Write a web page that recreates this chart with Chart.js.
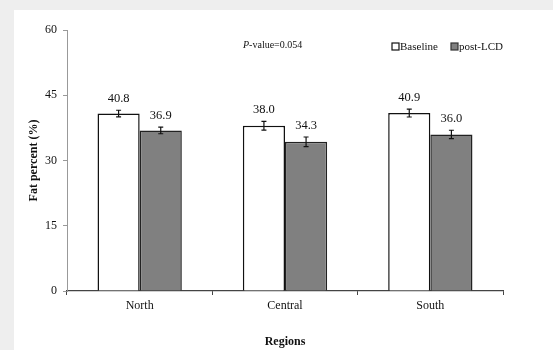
<!DOCTYPE html>
<html>
<head>
<meta charset="utf-8">
<script src="https://cdn.jsdelivr.net/npm/chart.js@4"></script>
<style>
  html, body { margin: 0; padding: 0; background: #eeeeee; }
  #panel { position: absolute; left: 14px; top: 10px; width: 539px; height: 340px; background: #ffffff; }
</style>
</head>
<body>
<div id="panel"><canvas id="chart" width="539" height="340"></canvas></div>
<script>
// dados
const regions = ['North', 'Central', 'South']
const baseline = [40.8, 38.0, 40.9]
const postLCD = [36.9, 34.3, 36.0]
const baselineErr = [0.75, 1.0, 0.9]
const postErr = [0.75, 1.1, 0.95]
const yTicks = [0, 15, 30, 45, 60]

const serif = '"Liberation Serif", "DejaVu Serif", serif'

// barras de erro + rótulos de valor
const errorBars = {
    id: 'errorBars',
    afterDatasetsDraw(chart) {
        const ctx = chart.ctx
        const y = chart.scales.y
        const errs = [baselineErr, postErr]
        ctx.save()
        chart.data.datasets.forEach((ds, i) => {
            const meta = chart.getDatasetMeta(i)
            meta.data.forEach((bar, j) => {
                const v = ds.data[j]
                const top = y.getPixelForValue(v + errs[i][j])
                const bot = y.getPixelForValue(v - errs[i][j])
                ctx.strokeStyle = '#111'
                ctx.lineWidth = 1.2
                ctx.beginPath()
                ctx.moveTo(bar.x, top); ctx.lineTo(bar.x, bot)
                ctx.moveTo(bar.x - 2.5, top); ctx.lineTo(bar.x + 2.5, top)
                ctx.moveTo(bar.x - 2.5, bot); ctx.lineTo(bar.x + 2.5, bot)
                ctx.stroke()
                ctx.fillStyle = '#111'
                ctx.font = '12.5px ' + serif
                ctx.textAlign = 'center'
                ctx.textBaseline = 'bottom'
                ctx.fillText(v.toFixed(1), bar.x, top - 5)
            })
        })
        ctx.restore()
    }
}

// legenda e P-value
const extras = {
    id: 'extras',
    afterDraw(chart) {
        const ctx = chart.ctx
        ctx.save()
        ctx.textBaseline = 'middle'
        ctx.fillStyle = '#111'
        ctx.font = 'italic 10px ' + serif
        ctx.fillText('P', 229, 35)
        const pw = ctx.measureText('P').width
        ctx.font = '10px ' + serif
        ctx.fillText('-value=0.054', 229 + pw, 35)

        ctx.font = '11px ' + serif
        ctx.lineWidth = 1.2
        ctx.strokeStyle = '#111'
        ctx.fillStyle = '#fff'
        ctx.fillRect(378, 33, 7, 7); ctx.strokeRect(378, 33, 7, 7)
        ctx.fillStyle = '#111'
        ctx.fillText('Baseline', 386, 37)
        ctx.fillStyle = '#808080'
        ctx.fillRect(437, 33, 7, 7); ctx.strokeStyle = '#333'; ctx.strokeRect(437, 33, 7, 7)
        ctx.fillStyle = '#111'
        ctx.fillText('post-LCD', 445, 37)
        ctx.restore()
    }
}

new Chart(document.getElementById('chart'), {
    type: 'bar',
    data: {
        labels: regions,
        datasets: [{
            label: 'Baseline',
            data: baseline,
            backgroundColor: '#ffffff',
            borderColor: '#111',
            borderWidth: 1.5,
            categoryPercentage: 0.58,
            barPercentage: 1
        }, {
            label: 'post-LCD',
            data: postLCD,
            backgroundColor: '#808080',
            borderColor: '#222',
            borderWidth: 1.5,
            categoryPercentage: 0.58,
            barPercentage: 1
        }]
    },
    options: {
        responsive: false,
        animation: false,
        layout: { padding: { left: 0, top: 20, right: 50, bottom: 0 } },
        plugins: { legend: { display: false }, tooltip: { enabled: false } },
        scales: {
            x: {
                afterFit: s => { s.height = 59 },
                border: { color: '#444', width: 1.2 },
                grid: { drawOnChartArea: false, tickLength: 4, color: '#444', offset: true },
                ticks: { color: '#111', font: { family: serif, size: 12 }, padding: 4 },
                title: { display: true, text: 'Regions', color: '#111', font: { family: serif, size: 12, weight: 'bold' }, padding: { top: 21, bottom: 1 } }
            },
            y: {
                min: 0, max: 60,
                afterFit: s => { s.width = 53 },
                afterBuildTicks: s => { s.ticks = yTicks.map(v => ({ value: v })) },
                border: { color: '#999', width: 1 },
                grid: { drawOnChartArea: false, tickLength: 4, color: '#999' },
                ticks: { color: '#111', font: { family: serif, size: 12 }, padding: 6 },
                title: { display: true, text: 'Fat percent (%)', color: '#111', font: { family: serif, size: 12, weight: 'bold' }, padding: { top: 13, bottom: 4 } }
            }
        }
    },
    plugins: [errorBars, extras]
})
</script>
</body>
</html>
